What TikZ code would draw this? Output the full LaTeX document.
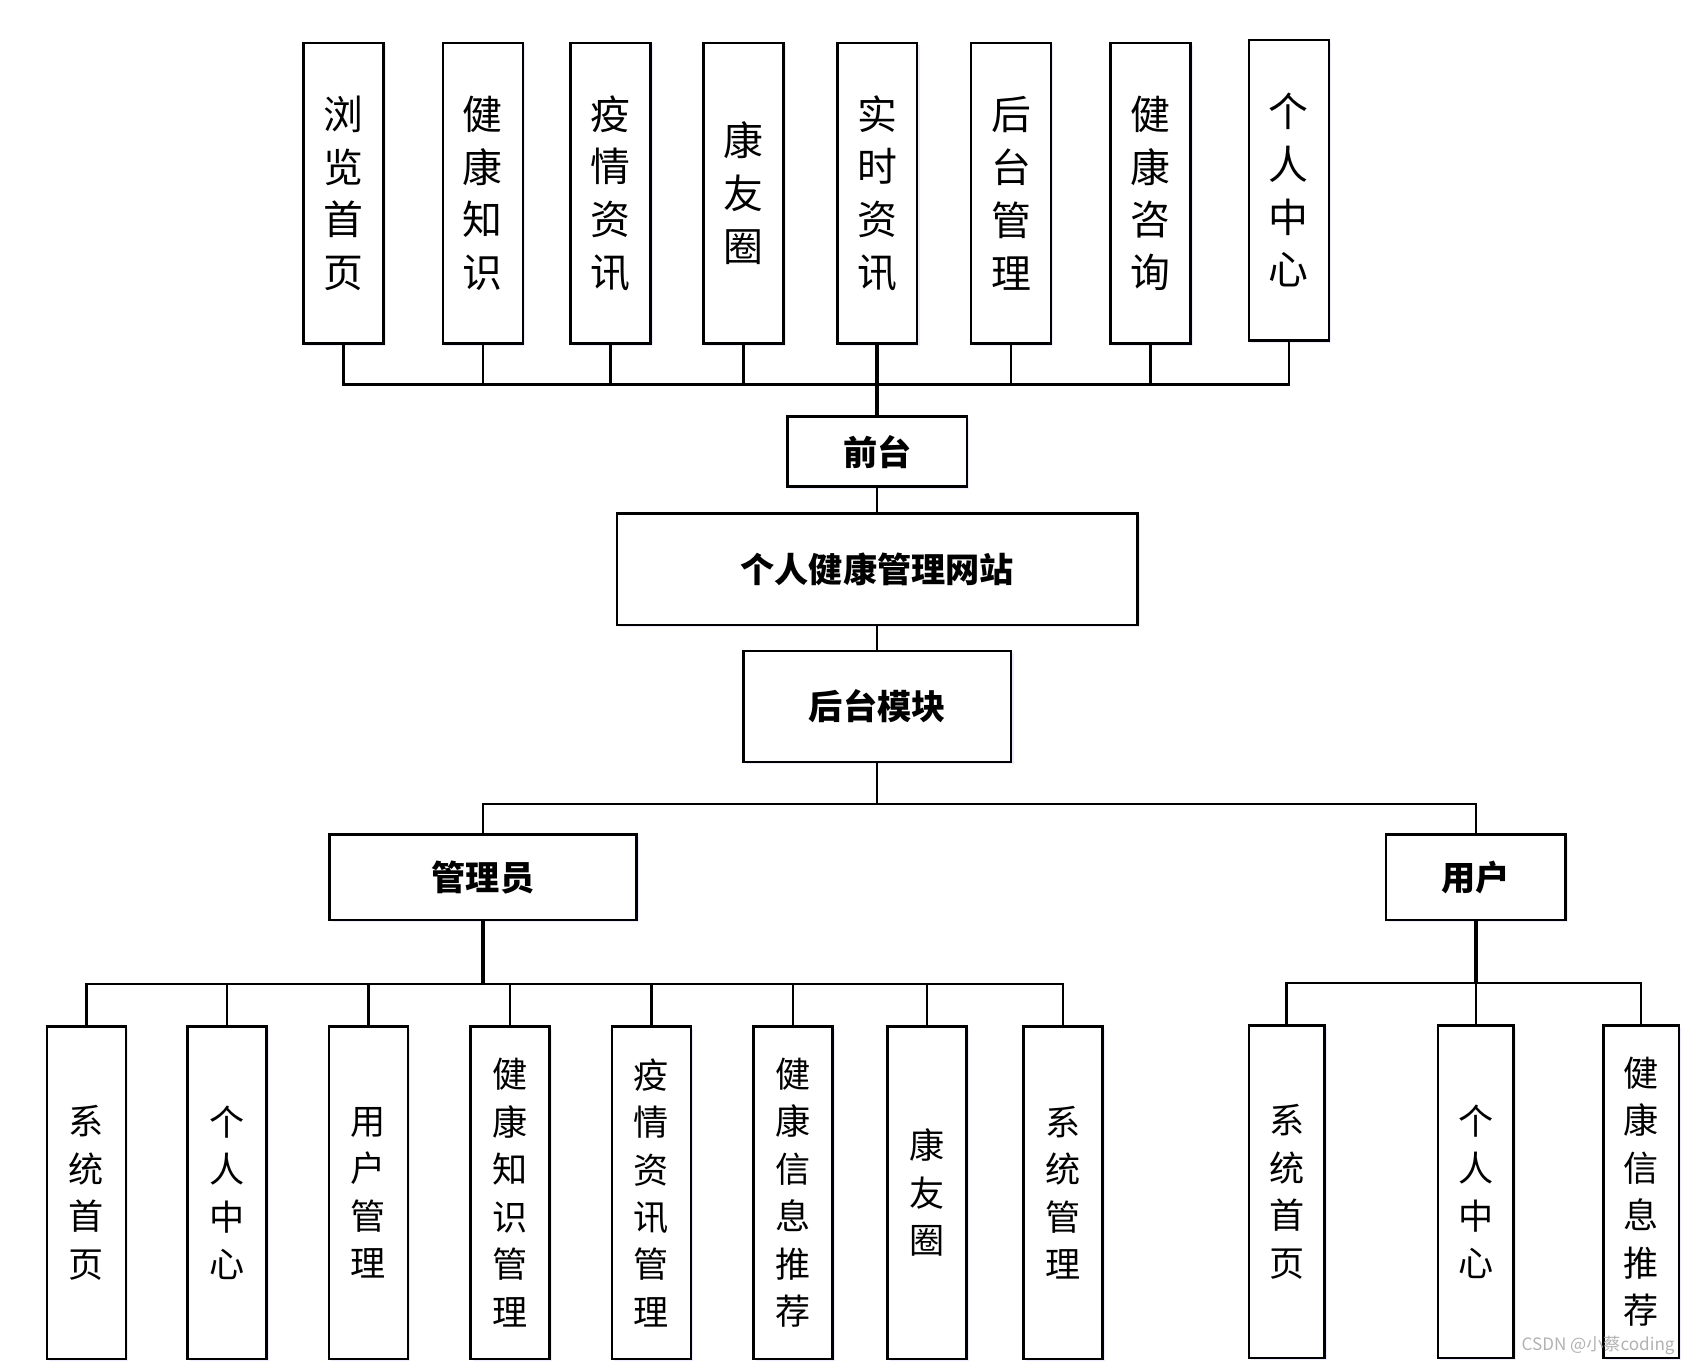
\documentclass[tikz,border=0pt]{standalone}
\usepackage{fontspec}
\newfontfamily\cjk{Noto Sans CJK SC}
\usetikzlibrary{shadows}

\begin{document}
\begin{tikzpicture}[
    x=0.2mm, y=-0.2mm,
    line width=1.3pt,
    % Style shared by every box
    box/.style={draw, fill=white, line width=1.3pt, inner sep=0pt, align=center,
        drop shadow={shadow xshift=1.2pt, shadow yshift=-1.2pt, fill=blue!30, opacity=0.25}},
    % Tall boxes of the front end
    topbox/.style={box, minimum width=14.8mm, minimum height=55.6mm,
        font=\cjk\fontsize{21}{27.8}\selectfont},
    % Tall boxes of the two roles
    leafbox/.style={box, minimum width=14.6mm, minimum height=61.6mm,
        font=\cjk\fontsize{18.5}{25}\selectfont},
    % Wide boxes in the middle column
    midbox/.style={box, font=\cjk\bfseries\fontsize{18}{22}\selectfont},
    trunk/.style={line width=2pt}
]
    \useasboundingbox (0,0) rectangle (1568,1263);

    % --- 1. Front end modules ---
    \node[topbox] (liulan)  at (318,179)  {浏\\览\\首\\页};
    \node[topbox] (zhishi)  at (447,179)  {健\\康\\知\\识};
    \node[topbox] (yiqing)  at (565,179)  {疫\\情\\资\\讯};
    \node[topbox] (kangyou) at (688,179)  {康\\友\\圈};
    \node[topbox] (shishi)  at (812,179)  {实\\时\\资\\讯};
    \node[topbox] (houguan) at (936,179)  {后\\台\\管\\理};
    \node[topbox] (zixun)   at (1065,179) {健\\康\\咨\\询};
    \node[topbox] (geren)   at (1193,176) {个\\人\\中\\心};

    % --- 2. Middle column ---
    \node[midbox, minimum width=33.2mm, minimum height=13mm]   (qiantai) at (812,418) {前台};
    \node[midbox, minimum width=96.4mm, minimum height=20.6mm] (site)    at (812,527) {个人健康管理网站};
    \node[midbox, minimum width=49.6mm, minimum height=20.6mm] (houtai)  at (812,654) {后台模块};

    \node[midbox, minimum width=56.8mm, minimum height=15.8mm] (admin) at (447,812)  {管理员};
    \node[midbox, minimum width=33.2mm, minimum height=15.8mm] (user)  at (1366,812) {用户};

    % --- 3. Administrator modules ---
    \node[leafbox] (a1) at (80,1104)  {系\\统\\首\\页};
    \node[leafbox] (a2) at (210,1104) {个\\人\\中\\心};
    \node[leafbox] (a3) at (341,1104) {用\\户\\管\\理};
    \node[leafbox] (a4) at (472,1104) {健\\康\\知\\识\\管\\理};
    \node[leafbox] (a5) at (603,1104) {疫\\情\\资\\讯\\管\\理};
    \node[leafbox] (a6) at (734,1104) {健\\康\\信\\息\\推\\荐};
    \node[leafbox] (a7) at (858,1104) {康\\友\\圈};
    \node[leafbox] (a8) at (984,1104) {系\\统\\管\\理};

    % --- 4. User modules ---
    \node[leafbox, minimum width=14mm] (u1) at (1191,1103) {系\\统\\首\\页};
    \node[leafbox, minimum width=14mm] (u2) at (1366,1103) {个\\人\\中\\心};
    \node[leafbox, minimum width=14mm] (u3) at (1519,1103) {健\\康\\信\\息\\推\\荐};

    % --- 5. Connectors ---
    \coordinate (topbus)   at (812,356);
    \coordinate (midbus)   at (812,744);
    \coordinate (adminbus) at (447,911);
    \coordinate (userbus)  at (1366,910);

    \draw (liulan.south)  |- (topbus);
    \draw (zhishi.south)  |- (topbus);
    \draw (yiqing.south)  |- (topbus);
    \draw (kangyou.south) |- (topbus);
    \draw (houguan.south) |- (topbus);
    \draw (zixun.south)   |- (topbus);
    \draw (geren.south)   |- (topbus);
    \draw[trunk] (shishi.south) -- (qiantai.north);

    \draw (qiantai) -- (site);
    \draw (site) -- (houtai);

    \draw (houtai.south) -- (midbus);
    \draw (admin.north) |- (midbus);
    \draw (user.north)  |- (midbus);

    \draw[trunk] (admin.south) -- (adminbus);
    \draw (a1.north) |- (adminbus);
    \draw (a2.north) |- (adminbus);
    \draw (a3.north) |- (adminbus);
    \draw (a4.north) |- (adminbus);
    \draw (a5.north) |- (adminbus);
    \draw (a6.north) |- (adminbus);
    \draw (a7.north) |- (adminbus);
    \draw (a8.north) |- (adminbus);

    \draw[trunk] (user.south) -- (userbus);
    \draw (u1.north) |- (userbus);
    \draw (u2.north) -- (userbus);
    \draw (u3.north) |- (userbus);

    % --- 6. Watermark ---
    \node[anchor=east, text=gray!60, font=\cjk\fontsize{9}{10}\selectfont] (mark) at (1557,1245) {CSDN @小蔡coding};

\end{tikzpicture}
\end{document}
